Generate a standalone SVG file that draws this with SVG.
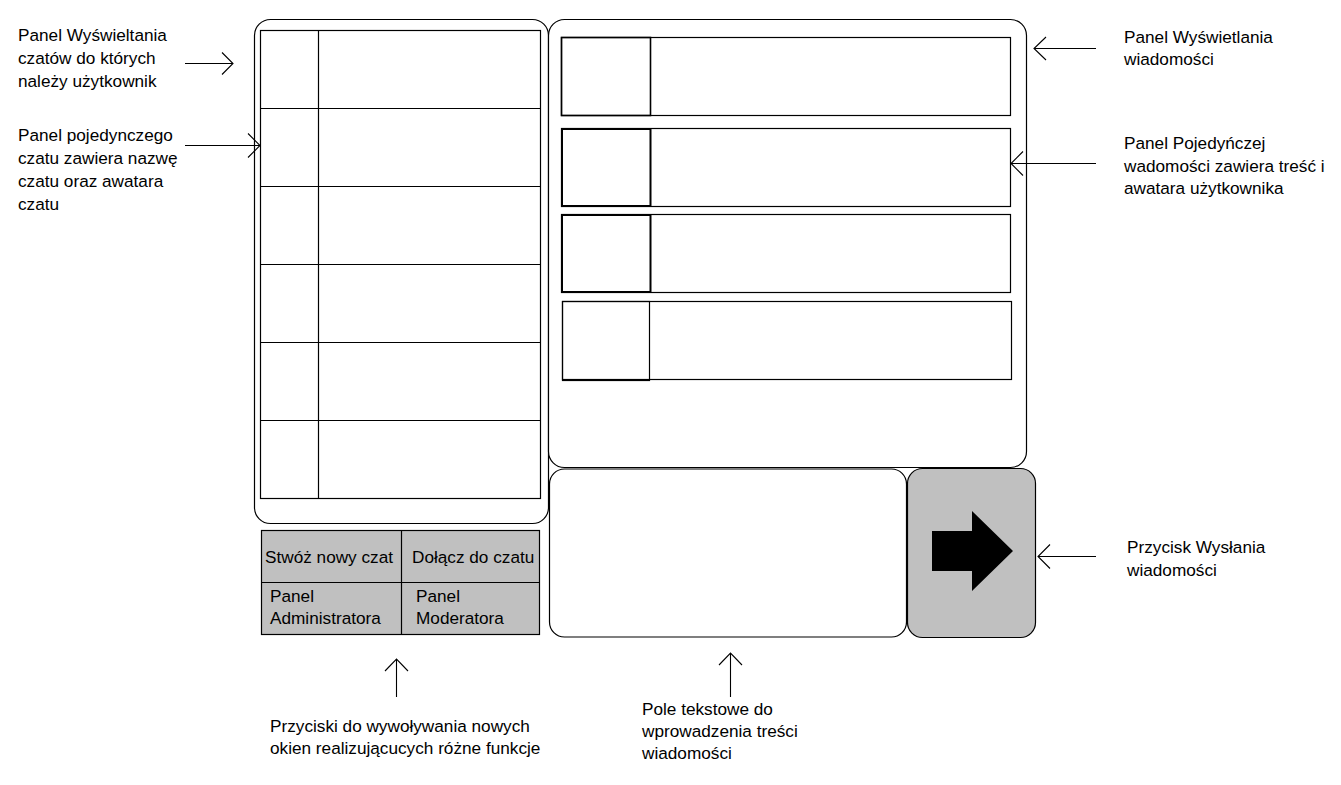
<svg xmlns="http://www.w3.org/2000/svg" width="1341" height="785" viewBox="0 0 1341 785">
<defs>
<style>
.t{font-family:"Liberation Sans",Arial,sans-serif;font-size:17.2px;fill:#000}
.b{fill:none;stroke:#000;stroke-width:1.2}
.w{fill:#fff;stroke:#000;stroke-width:1.2}
.g{fill:#c0c0c0;stroke:#000;stroke-width:1.2}
.c{fill:none;stroke:#000;stroke-width:1.1}
</style>
</defs>
<rect width="1341" height="785" fill="#fff"/>

<g id="chat-list-panel">
<rect class="w" x="254.5" y="19.5" width="294" height="504" rx="16"/>
<rect class="b" x="260.5" y="30.5" width="280" height="468"/>
<line class="b" x1="318.5" y1="30.5" x2="318.5" y2="498.5"/>
<line class="b" x1="260.5" y1="108.5" x2="540.5" y2="108.5"/>
<line class="b" x1="260.5" y1="186.5" x2="540.5" y2="186.5"/>
<line class="b" x1="260.5" y1="264.5" x2="540.5" y2="264.5"/>
<line class="b" x1="260.5" y1="342.5" x2="540.5" y2="342.5"/>
<line class="b" x1="260.5" y1="420.5" x2="540.5" y2="420.5"/>
</g>

<g id="message-panel">
<rect class="w" x="548.5" y="19.5" width="478" height="448" rx="16"/>
<g id="msg1">
<rect class="b" x="561.5" y="37.5" width="449" height="78"/>
<rect class="b" x="561.5" y="37.5" width="89" height="78" style="stroke-width:1.6"/>
</g>
<g id="msg2">
<rect class="b" x="561.5" y="128.5" width="449" height="78"/>
<rect class="b" x="562" y="129" width="88.5" height="77" style="stroke-width:2"/>
</g>
<g id="msg3">
<rect class="b" x="561.5" y="214.5" width="449" height="78"/>
<rect class="b" x="562" y="215" width="88.5" height="77" style="stroke-width:2"/>
</g>
<g id="msg4">
<rect class="b" x="562.5" y="301.5" width="449" height="78"/>
<rect class="b" x="562.5" y="301.5" width="87" height="79"/>
</g>
</g>

<g id="text-input">
<rect class="w" x="549.5" y="469" width="357" height="168" rx="15"/>
</g>

<g id="send-button">
<rect class="g" x="907.5" y="468.5" width="128" height="169" rx="15"/>
<polygon points="932,531 972,531 972,511 1013,551 972,591 972,571 932,571" fill="#000"/>
</g>

<g id="action-buttons">
<rect class="g" x="261.5" y="530.5" width="278" height="104"/>
<line class="b" x1="401.5" y1="530.5" x2="401.5" y2="634.5"/>
<line class="b" x1="261.5" y1="582.5" x2="539.5" y2="582.5"/>
<text class="t" x="265" y="563">Stwóż nowy czat</text>
<text class="t" x="412" y="563">Dołącz do czatu</text>
<text class="t" x="270" y="602">Panel</text>
<text class="t" x="270" y="624">Administratora</text>
<text class="t" x="416" y="602">Panel</text>
<text class="t" x="416" y="624">Moderatora</text>
</g>

<g id="labels">
<text class="t" x="18" y="41">Panel Wyświeltania</text>
<text class="t" x="18" y="64">czatów do których</text>
<text class="t" x="18" y="87">należy użytkownik</text>
<text class="t" x="18" y="141">Panel pojedynczego</text>
<text class="t" x="18" y="164">czatu zawiera nazwę</text>
<text class="t" x="18" y="187">czatu oraz awatara</text>
<text class="t" x="18" y="210">czatu</text>
<text class="t" x="1124" y="43">Panel Wyświetlania</text>
<text class="t" x="1124" y="65">wiadomości</text>
<text class="t" x="1124" y="149">Panel Pojedyńczej</text>
<text class="t" x="1124" y="172">wadomości zawiera treść i</text>
<text class="t" x="1124" y="194">awatara użytkownika</text>
<text class="t" x="1127" y="553">Przycisk Wysłania</text>
<text class="t" x="1127" y="576">wiadomości</text>
<text class="t" x="270" y="732">Przyciski do wywoływania nowych</text>
<text class="t" x="270" y="754">okien realizującucych różne funkcje</text>
<text class="t" x="642" y="715">Pole tekstowe do</text>
<text class="t" x="642" y="737">wprowadzenia treści</text>
<text class="t" x="642" y="759">wiadomości</text>
</g>

<g id="connectors">
<path class="c" d="M185,63.5 H233 M222,52.5 L233,63.5 L222,74.5"/>
<path class="c" d="M185,145.5 H260 M248,133.5 L260,145.5 L248,157.5"/>
<path class="c" d="M1096,48.5 H1034 M1046,37 L1034,48.5 L1046,60"/>
<path class="c" d="M1096,163.5 H1011 M1023,151.5 L1011,163.5 L1023,175.5"/>
<path class="c" d="M1096,556.5 H1038 M1050,544.5 L1038,556.5 L1050,568.5"/>
<path class="c" d="M396.5,697 V659 M385,671 L396.5,659 L408,671"/>
<path class="c" d="M730.5,697 V653 M719,665 L730.5,653 L742,665"/>
</g>
</svg>
